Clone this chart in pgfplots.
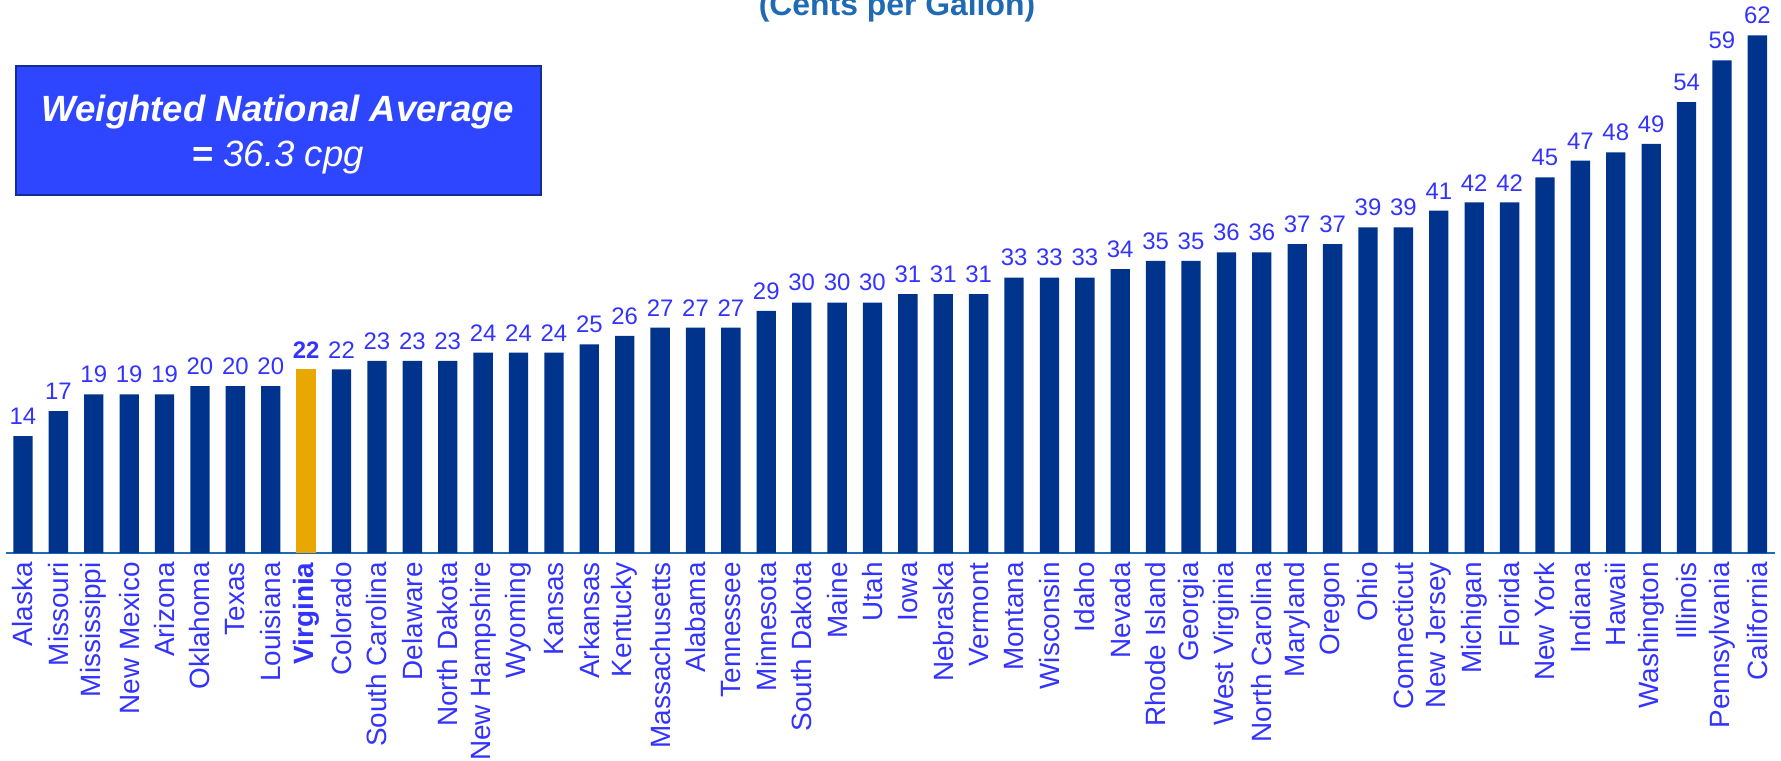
\documentclass[border=0pt]{standalone}
\usepackage{fontspec}
\setmainfont{Liberation Sans}
\usepackage{pgfplots}
\pgfplotsset{compat=1.18}
\definecolor{navy}{RGB}{0,52,140}
\definecolor{gold}{RGB}{232,168,0}
\definecolor{labelblue}{RGB}{51,51,255}
\definecolor{boxblue}{RGB}{46,70,255}
\definecolor{boxedge}{RGB}{20,45,150}
\definecolor{titleblue}{RGB}{31,106,179}
\begin{document}
\begin{tikzpicture}[x=1bp,y=1bp]
\begin{axis}[
  at={(1.8bp,62.1bp)}, anchor=south west,
  scale only axis, width=530.7bp, height=165.3bp,
  xmin=-0.48, xmax=49.5, ymin=0, ymax=66,
  clip=false,
  axis x line*=bottom, axis y line=none,
  x axis line style={draw=titleblue, line width=0.45bp},
  ytick=\empty,
  major tick length=0pt,
  ybar, bar width=5.8bp, bar shift=0pt,
  xtick={0,...,49},
  xticklabels={Alaska,Missouri,Mississippi,New Mexico,Arizona,Oklahoma,Texas,Louisiana,\textbf{Virginia},Colorado,South Carolina,Delaware,North Dakota,New Hampshire,Wyoming,Kansas,Arkansas,Kentucky,Massachusetts,Alabama,Tennessee,Minnesota,South Dakota,Maine,Utah,Iowa,Nebraska,Vermont,Montana,Wisconsin,Idaho,Nevada,Rhode Island,Georgia,West Virginia,North Carolina,Maryland,Oregon,Ohio,Connecticut,New Jersey,Michigan,Florida,New York,Indiana,Hawaii,Washington,Illinois,Pennsylvania,California},
  x tick label style={rotate=90, anchor=east, font=\fontsize{8.4}{9}\selectfont, text=labelblue, inner sep=0pt},
  xticklabel shift=2.6bp,
  /pgf/number format/assume math mode=true,
  nodes near coords,
  every node near coord/.append style={font=\fontsize{7.2}{8}\selectfont, text=labelblue, inner sep=0pt, yshift=3.2bp},
]
\addplot[fill=navy, draw=none] coordinates {
(0,14) (1,17) (2,19) (3,19) (4,19) (5,20) (6,20) (7,20) (9,22)
(10,23) (11,23) (12,23) (13,24) (14,24) (15,24) (16,25) (17,26) (18,27) (19,27)
(20,27) (21,29) (22,30) (23,30) (24,30) (25,31) (26,31) (27,31) (28,33) (29,33)
(30,33) (31,34) (32,35) (33,35) (34,36) (35,36) (36,37) (37,37) (38,39) (39,39)
(40,41) (41,42) (42,42) (43,45) (44,47) (45,48) (46,49) (47,54) (48,59) (49,62)
};
\addplot[fill=gold, draw=none,
  every node near coord/.append style={font=\fontsize{7.2}{8}\selectfont\bfseries}] coordinates {(8,22)};
\end{axis}
\node[anchor=base, text=titleblue, font=\fontsize{9.6}{11}\selectfont\bfseries] at (269.1,223.5) {(Cents per Gallon)};
\draw[fill=boxblue, draw=boxedge, line width=0.6bp] (4.8,169.5) rectangle (162.3,208.2);
\node[text=white, font=\fontsize{11}{13}\selectfont\bfseries\itshape] at (83.4,194.4) {Weighted National Average};
\node[text=white, font=\fontsize{11}{13}\selectfont] at (83.4,180.6) {\textbf{=} \textit{36.3 cpg}};
\pgfresetboundingbox
\path (0,0) rectangle (534.3,228);
\end{tikzpicture}
\end{document}
